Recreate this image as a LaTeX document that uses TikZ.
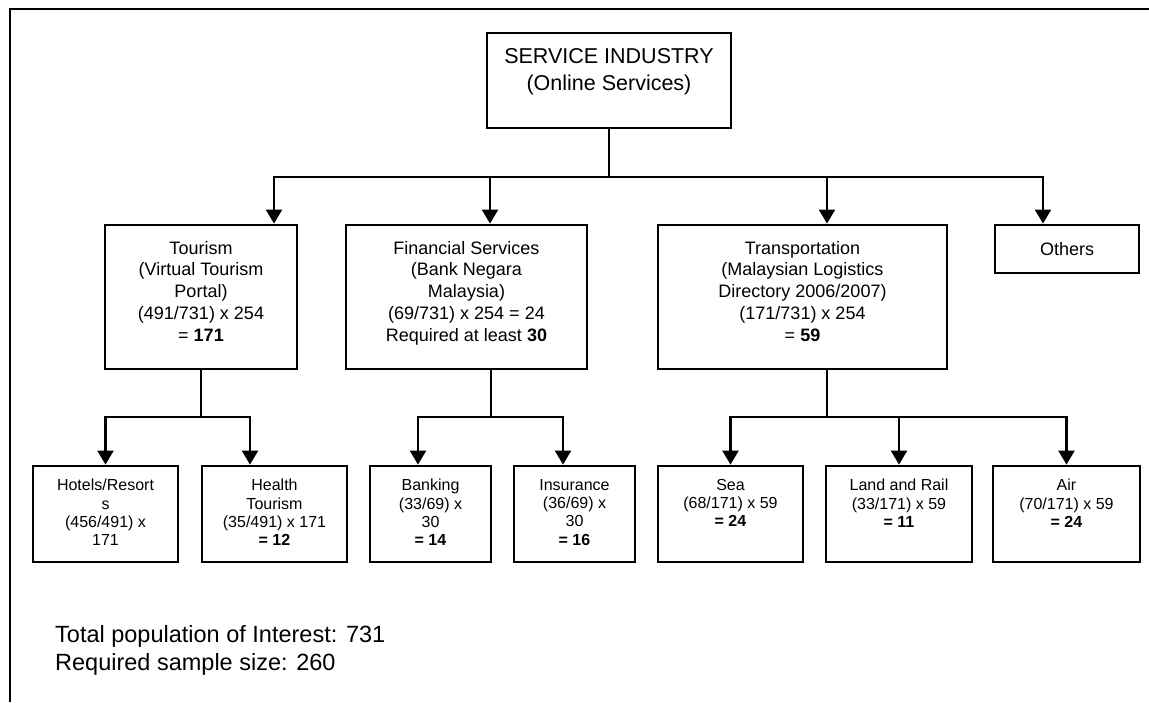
\documentclass[tikz,border=0pt]{standalone}
\usepackage{fontspec}
\setmainfont{Liberation Sans}
\usetikzlibrary{arrows.meta}
\newcommand{\fbig}{\fontsize{21.5}{27}\selectfont}
\newcommand{\fmid}{\fontsize{18}{21.7}\selectfont}
\newcommand{\fsml}{\fontsize{16}{18.3}\selectfont}
\newcommand{\fnote}{\fontsize{23.5}{28}\selectfont}

\begin{document}
\begin{tikzpicture}[x=1pt,y=1pt,yscale=-1,xscale=1,
  box/.style={draw, line width=2.8, inner sep=0},
  txt/.style={anchor=north, align=center, inner sep=0},
  line/.style={line width=2.2},
  arr/.style={line width=2.2, -{Triangle[width=16pt,length=14pt]}}]
\useasboundingbox (0,0) rectangle (1149,702);
\draw [line width=2.4] (10,702) -- (10,9) -- (1149,9);
\node[box, minimum width=244, minimum height=95] (serv) at (609,80.5) {};
\node[txt, font=\fbig] (servtx) at (609,48) {SERVICE INDUSTRY\\(Online Services)};
\node[box, minimum width=192, minimum height=144] (tour) at (201,297) {};
\node[txt, font=\fmid] (tourtx) at (201,241) {Tourism\\(Virtual Tourism\\Portal)\\(491/731) x 254\\= \textbf{171}};
\node[box, minimum width=241, minimum height=144] (fin) at (466.5,297) {};
\node[txt, font=\fmid] (fintx) at (466.5,241) {Financial Services\\(Bank Negara\\Malaysia)\\(69/731) x 254 = 24\\Required at least \textbf{30}};
\node[box, minimum width=289, minimum height=144] (trans) at (802.5,297) {};
\node[txt, font=\fmid] (transtx) at (802.5,241) {Transportation\\(Malaysian Logistics\\Directory 2006/2007)\\(171/731) x 254\\= \textbf{59}};
\node[box, minimum width=144, minimum height=48, font=\fmid] (oth) at (1067,249) {Others};
\node[box, minimum width=145, minimum height=96] (hotel) at (105.5,514) {};
\node[txt, font=\fsml] (hoteltx) at (105.5,479) {Hotels/Resort\\s\\(456/491) x\\171};
\node[box, minimum width=145, minimum height=96] (health) at (274.5,514) {};
\node[txt, font=\fsml] (healthtx) at (274.5,479) {Health\\Tourism\\(35/491) x 171\\\textbf{= 12}};
\node[box, minimum width=121, minimum height=96] (bank) at (430.5,514) {};
\node[txt, font=\fsml] (banktx) at (430.5,479) {Banking\\(33/69) x\\30\\\textbf{= 14}};
\node[box, minimum width=121, minimum height=96] (insur) at (574.5,514) {};
\node[txt, font=\fsml] (insurtx) at (574.5,479) {Insurance\\(36/69) x\\30\\\textbf{= 16}};
\node[box, minimum width=145, minimum height=96] (sea) at (730.5,514) {};
\node[txt, font=\fsml] (seatx) at (730.5,479) {Sea\\(68/171) x 59\\\textbf{= 24}};
\node[box, minimum width=146, minimum height=96] (land) at (899,514) {};
\node[txt, font=\fsml] (landtx) at (899,479) {Land and Rail\\(33/171) x 59\\\textbf{= 11}};
\node[box, minimum width=147, minimum height=96] (air) at (1066.5,514) {};
\node[txt, font=\fsml] (airtx) at (1066.5,479) {Air\\(70/171) x 59\\\textbf{= 24}};
\node[anchor=north west, align=left, inner sep=0, font=\fnote] (note) at (55,625) {Total population of Interest: 731\\Required sample size: 260};
\coordinate (j0) at (609,177);
\coordinate (j1) at (201,417);
\coordinate (j2) at (491,417);
\coordinate (j3) at (827,417);
\draw [line] (serv.south) -- (j0);
\draw [arr] (j0) -| ([xshift=73]tour.north);
\draw [arr] (j0) -| ([xshift=23.5]fin.north);
\draw [arr] (j0) -| ([xshift=24.5]trans.north);
\draw [arr] (j0) -| ([xshift=-24]oth.north);
\draw [line] (tour.south) -- (j1);
\draw [arr] (j1) -| (hotel.north);
\draw [arr] (j1) -| ([xshift=-24.5]health.north);
\draw [line] ([xshift=24.5]fin.south) -- (j2);
\draw [arr] (j2) -| ([xshift=-12.5]bank.north);
\draw [arr] (j2) -| ([xshift=-11.5]insur.north);
\draw [line] ([xshift=24.5]trans.south) -- (j3);
\draw [arr] (j3) -| (sea.north);
\draw [arr] (j3) -| (land.north);
\draw [arr] (j3) -| (air.north);
\end{tikzpicture}
\end{document}
